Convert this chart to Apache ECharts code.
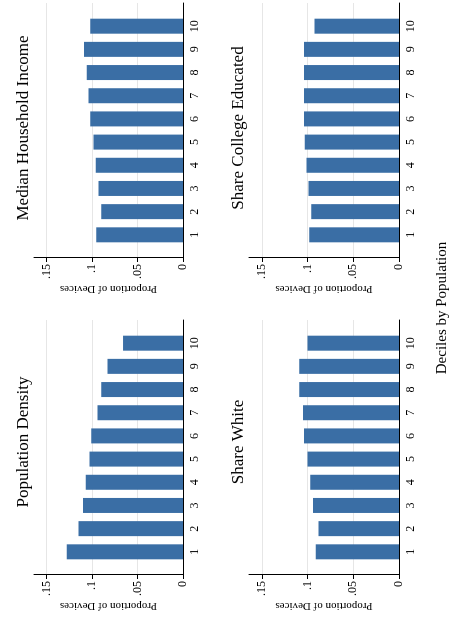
<!DOCTYPE html>
<html><head><meta charset="utf-8">
<script src="https://cdn.jsdelivr.net/npm/echarts@6/dist/echarts.min.js"></script>
<style>
html,body{margin:0;padding:0;background:#fff;overflow:hidden;width:449px;height:625px;}
#c{position:absolute;left:0;top:625px;width:625px;height:449px;transform-origin:0 0;transform:rotate(-90deg);}
</style></head>
<body><div id="c"></div>
<script>
// deciles 1..10, share of devices per decile
const deciles = [1, 2, 3, 4, 5, 6, 7, 8, 9, 10];
const popDensity = [0.128, 0.115, 0.110, 0.107, 0.103, 0.101, 0.094, 0.090, 0.083, 0.066];
const hhIncome = [0.0955, 0.090, 0.093, 0.096, 0.0985, 0.102, 0.104, 0.106, 0.109, 0.102];
const shareWhite = [0.091, 0.088, 0.094, 0.097, 0.100, 0.104, 0.105, 0.109, 0.109, 0.100];
const shareCollege = [0.098, 0.096, 0.099, 0.101, 0.103, 0.104, 0.104, 0.104, 0.104, 0.0925];
const valueTicks = [0, 0.05, 0.1, 0.15];

const font = 'Liberation Serif';
const chart = echarts.init(document.getElementById('c'));

// panel boxes in unrotated coords
const panels = [
  {title: 'Population Density', data: popDensity, left: 50, right: 320, top: 34, bottom: 266, tx: 178},
  {title: 'Median Household Income', data: hhIncome, left: 367, right: 3, top: 34, bottom: 266, tx: 492},
  {title: 'Share White', data: shareWhite, left: 50, right: 320, top: 249, bottom: 50, tx: 178},
  {title: 'Share College Educated', data: shareCollege, left: 367, right: 3, top: 249, bottom: 50, tx: 492},
];

const fmt = v => v === 0 ? '0' : String(v).replace(/^0/, '');

let option = {
  animation: false,
  textStyle: {fontFamily: font},
  title: panels.map(p => ({
    text: p.title,
    left: p.tx,
    top: p.top - 24,
    textAlign: 'center',
    textStyle: {fontFamily: font, fontWeight: 'normal', fontSize: 17, color: '#000'}
  })).concat([{
    text: 'Deciles by Population', left: 312, top: 430, textAlign: 'center',
    textStyle: {fontFamily: font, fontWeight: 'normal', fontSize: 15, color: '#000'}
  }]),
  grid: panels.map(p => ({left: p.left, right: p.right, top: p.top, bottom: p.bottom})),
  xAxis: panels.map((p, i) => ({
    type: 'value', gridIndex: i, min: 0, max: 11,
    axisLine: {show: true, onZero: false, lineStyle: {color: '#000', width: 1}},
    axisTick: {show: false},
    splitLine: {show: false},
    axisLabel: {fontFamily: font, fontSize: 12, color: '#000', margin: 6, customValues: deciles}
  })),
  yAxis: panels.map((p, i) => ({
    type: 'value', gridIndex: i, min: 0, max: 0.164,
    name: 'Proportion of Devices', nameLocation: 'middle', nameGap: 25,
    nameTextStyle: {fontFamily: font, fontSize: 11, color: '#000'},
    axisLine: {show: true, lineStyle: {color: '#000', width: 1}},
    axisTick: {show: true, length: 4, lineStyle: {color: '#000'}, customValues: valueTicks},
    axisLabel: {fontFamily: font, fontSize: 12, color: '#000', formatter: fmt, margin: 6, customValues: valueTicks},
    splitLine: {show: true, lineStyle: {color: '#e6e6e6', width: 1}}
  })),
  series: panels.map((p, i) => ({
    type: 'bar', xAxisIndex: i, yAxisIndex: i,
    data: p.data.map((v, k) => [deciles[k], v]),
    barWidth: 15, itemStyle: {color: '#3a6ea5'}
  }))
};
chart.setOption(option);
</script></body></html>
